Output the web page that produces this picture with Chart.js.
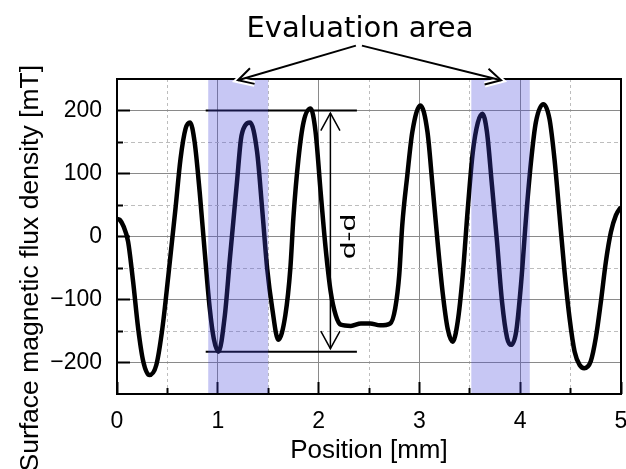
<!DOCTYPE html>
<html><head><meta charset="utf-8">
<script src="https://cdn.jsdelivr.net/npm/chart.js@4.4.0/dist/chart.umd.min.js"></script>
<style>html,body{margin:0;padding:0;background:#fff;}#wrap{width:626px;height:469px;position:relative;}</style>
</head><body><div id="wrap"><canvas id="c"></canvas></div>
<script>
// ---- data ----
const positions = [0, 0.03, 0.065, 0.11, 0.16, 0.21, 0.26, 0.32, 0.39, 0.45, 0.51, 0.58, 0.63, 0.68, 0.725, 0.77, 0.82, 0.87, 0.92, 0.96, 1.007, 1.07, 1.12, 1.19, 1.23, 1.27, 1.32, 1.39, 1.44, 1.49, 1.54, 1.60, 1.67, 1.72, 1.75, 1.80, 1.85, 1.92, 1.97, 2.02, 2.07, 2.12, 2.17, 2.22, 2.32, 2.42, 2.51, 2.61, 2.71, 2.76, 2.80, 2.83, 2.88, 2.93, 3.01, 3.08, 3.13, 3.18, 3.23, 3.28, 3.33, 3.38, 3.43, 3.48, 3.53, 3.58, 3.625, 3.67, 3.72, 3.77, 3.82, 3.87, 3.91, 3.96, 4.01, 4.06, 4.11, 4.155, 4.23, 4.29, 4.34, 4.39, 4.44, 4.49, 4.54, 4.59, 4.635, 4.70, 4.75, 4.80, 4.85, 4.90, 4.95, 5.0];
const fluxDensity = [28, 26, 16, -8, -72, -146, -198, -220, -204, -146, -61, 44, 123, 171, 181, 150, 71, -24, -114, -162, -183, -125, -35, 86, 155, 176, 181, 134, 44, -51, -114, -164, -125, -50, 30, 123, 181, 203, 166, 71, -19, -88, -125, -140, -142, -138, -138, -141, -138, -114, -61, 18, 97, 166, 208, 166, 81, -8, -88, -146, -167, -135, -61, 44, 134, 181, 195, 166, 81, -8, -104, -161, -172, -151, -72, 34, 123, 181, 210, 187, 123, 34, -56, -130, -183, -204, -209, -198, -161, -104, -40, 7, 34, 47];
const xTicksMajor = [0, 1, 2, 3, 4, 5];
const xTicksMinor = [0.5, 1.5, 2.5, 3.5, 4.5];
const yTicksMajor = [-200, -100, 0, 100, 200];
const yTicksMinor = [-150, -50, 50, 150];
const evalAreaStart = [0.905, 3.515];
const evalAreaEnd = [1.50, 4.095];
const refLineX = [0.88, 2.38];
const refLineTop = [200, 200];
const refLineBottom = [-183, -183];
const ddArrowX = 2.117;
const ddArrowEnds = [196, -178];
const ddLabelPos = [2.31, 0];
const evalArrowFromX = [2.37, 2.43];
const evalArrowFromY = 303;
const evalArrowToX = [1.20, 3.81];
const evalArrowToY = 248;
const xRange = [0, 5];
const yRange = [-250, 250];
const titleText = 'Evaluation area';
const xTitle = 'Position [mm]';
const yTitle = 'Surface magnetic flux density [mT]';
const ddLabel = 'd-d';

const SANS = "'Liberation Sans', Arial, sans-serif";
Chart.defaults.font.family = SANS;
Chart.defaults.color = '#000';

const CLEAR = 'rgba(0,0,0,0)';
const inner = (v, r) => v > r[0] + 1e-6 && v < r[1] - 1e-6;

function arrowHead(ctx, x0, y0, x1, y1, len, spread) {
  const a = Math.atan2(y1 - y0, x1 - x0);
  ctx.beginPath();
  ctx.moveTo(x1 - len * Math.cos(a - spread), y1 - len * Math.sin(a - spread));
  ctx.lineTo(x1, y1);
  ctx.lineTo(x1 - len * Math.cos(a + spread), y1 - len * Math.sin(a + spread));
  ctx.stroke();
}

const annot = {
  id: 'annot',
  afterDatasetsDraw(chart) {
    const { ctx, chartArea: a, scales: { x, y } } = chart;
    const X = v => x.getPixelForValue(v), Y = v => y.getPixelForValue(v);
    ctx.save();
    ctx.lineCap = 'butt'; ctx.lineJoin = 'miter';
    // d-d double arrow
    ctx.strokeStyle = '#000'; ctx.lineWidth = 1.5;
    const ax = X(ddArrowX), ay1 = Y(ddArrowEnds[0]), ay2 = Y(ddArrowEnds[1]);
    ctx.beginPath(); ctx.moveTo(ax, ay1); ctx.lineTo(ax, ay2); ctx.stroke();
    arrowHead(ctx, ax, ay2, ax, ay1, 20, 0.5);
    arrowHead(ctx, ax, ay1, ax, ay2, 20, 0.5);
    // d-d label
    ctx.save();
    ctx.translate(X(ddLabelPos[0]), Y(ddLabelPos[1]));
    ctx.rotate(-Math.PI / 2);
    ctx.scale(1.55, 1);
    ctx.font = '20px ' + SANS; ctx.fillStyle = '#000';
    ctx.textAlign = 'center'; ctx.textBaseline = 'middle';
    ctx.fillText(ddLabel, 0, 0);
    ctx.restore();
    // evaluation bands
    ctx.fillStyle = 'rgba(68,68,220,0.3)';
    for (let i = 0; i < evalAreaStart.length; i++) {
      const x0 = X(evalAreaStart[i]), x1 = X(evalAreaEnd[i]);
      ctx.fillRect(x0, a.top, x1 - x0, a.bottom - a.top);
    }
    // frame
    ctx.strokeStyle = '#000'; ctx.lineWidth = 2;
    ctx.strokeRect(a.left, a.top, a.right - a.left, a.bottom - a.top);
    // evaluation arrows
    for (let i = 0; i < evalArrowToX.length; i++) {
      const x0 = X(evalArrowFromX[i]), y0 = Y(evalArrowFromY);
      const x1 = X(evalArrowToX[i]), y1 = Y(evalArrowToY);
      ctx.strokeStyle = '#fff'; ctx.lineWidth = 6;
      arrowHead(ctx, x0, y0, x1, y1, 17, 0.5);
      ctx.strokeStyle = '#000'; ctx.lineWidth = 2;
      ctx.beginPath(); ctx.moveTo(x0, y0); ctx.lineTo(x1, y1); ctx.stroke();
      arrowHead(ctx, x0, y0, x1, y1, 17, 0.5);
    }
    // chart title
    ctx.fillStyle = '#000';
    ctx.font = "29px 'DejaVu Sans', Verdana, sans-serif";
    ctx.textAlign = 'center'; ctx.textBaseline = 'alphabetic';
    ctx.fillText(titleText, 360, 37);
    // y axis title
    ctx.save();
    ctx.translate(31, 65);
    ctx.rotate(-Math.PI / 2);
    ctx.font = '26.5px ' + SANS;
    ctx.textAlign = 'right'; ctx.textBaseline = 'middle';
    ctx.fillText(yTitle, 0, 0);
    ctx.restore();
    ctx.restore();
  }
};

const pts = positions.map((p, i) => ({ x: p, y: fluxDensity[i] }));
const topLine = refLineX.map((p, i) => ({ x: p, y: refLineTop[i] }));
const botLine = refLineX.map((p, i) => ({ x: p, y: refLineBottom[i] }));

const noPad = s => { s.paddingLeft = 0; s.paddingRight = 0; s.paddingTop = 0; s.paddingBottom = 0; };
const setTicks = vals => s => { s.ticks = vals.map(v => ({ value: v })); };

new Chart(document.getElementById('c'), {
  type: 'line',
  data: {
    datasets: [
      { data: pts, borderColor: '#000', borderWidth: 4.5, pointRadius: 0, cubicInterpolationMode: 'monotone', fill: false, xAxisID: 'x', yAxisID: 'y' },
      { data: topLine, borderColor: '#000', borderWidth: 2, pointRadius: 0, fill: false, xAxisID: 'x', yAxisID: 'y' },
      { data: botLine, borderColor: '#000', borderWidth: 2, pointRadius: 0, fill: false, xAxisID: 'x', yAxisID: 'y' }
    ]
  },
  options: {
    responsive: true, maintainAspectRatio: false, animation: false, devicePixelRatio: 1,
    layout: { padding: { left: 0, right: 5, top: 79, bottom: 0 } },
    plugins: { legend: { display: false }, tooltip: { enabled: false } },
    scales: {
      x: {
        type: 'linear', position: 'bottom', weight: 1, min: xRange[0], max: xRange[1],
        afterBuildTicks: setTicks(xTicksMajor),
        border: { display: false },
        grid: { color: c => inner(c.tick.value, xRange) ? '#8a8a8a' : CLEAR, tickColor: '#000', lineWidth: 1, tickWidth: 2, tickLength: -12 },
        ticks: { padding: 26, maxRotation: 0, autoSkip: false, font: { size: 23 }, color: '#000', callback: v => String(v) },
        title: { display: true, text: xTitle, font: { size: 26 }, color: '#000', padding: { top: 0, bottom: 3 } },
        afterFit: s => { s.height = 75; noPad(s); }
      },
      x2: {
        type: 'linear', position: 'bottom', weight: 0, min: xRange[0], max: xRange[1],
        afterBuildTicks: setTicks(xTicksMinor),
        border: { display: false, dash: [3, 3] },
        grid: { color: '#bdbdbd', tickColor: '#000', lineWidth: 1, tickWidth: 2, tickLength: -6 },
        ticks: { display: false, autoSkip: false },
        afterFit: s => { s.height = 0; noPad(s); }
      },
      y: {
        type: 'linear', position: 'left', weight: 1, min: yRange[0], max: yRange[1],
        afterBuildTicks: setTicks(yTicksMajor),
        border: { display: false },
        grid: { color: '#8a8a8a', tickColor: '#000', lineWidth: 1, tickWidth: 2, tickLength: -13 },
        ticks: { padding: 28, autoSkip: false, font: { size: 23 }, color: '#000', callback: v => (v < 0 ? '\u2212' + Math.abs(v) : String(v)) },
        afterFit: s => { s.width = 117; noPad(s); }
      },
      y2: {
        type: 'linear', position: 'left', weight: 0, min: yRange[0], max: yRange[1],
        afterBuildTicks: setTicks(yTicksMinor),
        border: { display: false, dash: [4, 3] },
        grid: { color: '#bdbdbd', tickColor: '#000', lineWidth: 1, tickWidth: 2, tickLength: -6 },
        ticks: { display: false, autoSkip: false },
        afterFit: s => { s.width = 0; noPad(s); }
      }
    }
  },
  plugins: [annot]
});
</script></body></html>
